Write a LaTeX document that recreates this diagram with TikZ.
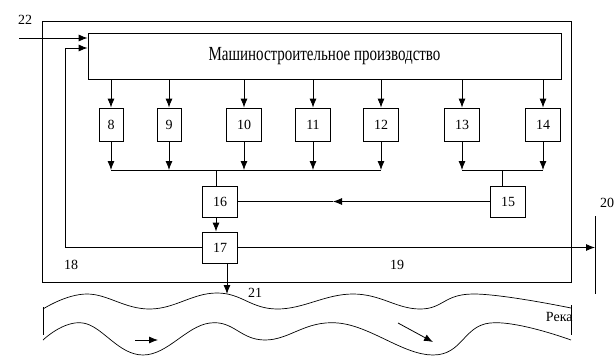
\documentclass[tikz,border=0pt]{standalone}
\usepackage{fontspec}
\setmainfont{Liberation Serif}
\usepackage{tikz}
\usetikzlibrary{arrows.meta}

\newcommand{\narrow}[1]{\scalebox{0.75}[1]{#1}}

\begin{document}
\begin{tikzpicture}
		[x=1pt,y=-1pt,line width=0.8pt,
		every node/.style={font=\fontsize{14}{14}\selectfont,inner sep=0pt},
		blk/.style={draw,minimum width=35pt,minimum height=33pt},
		thin blk/.style={blk,minimum width=24pt},
		flow/.style={-{Latex[length=9pt,width=7pt]}},
		river/.style={line width=0.7pt}]
		\useasboundingbox (0,0) rectangle (615,356);
		% enterprise border
		\draw (42,21) rectangle (571,282);
		\node[draw,minimum width=473pt,minimum height=46pt] (plant) at (324.5,56)
			{\fontsize{20}{20}\selectfont\narrow{Машиностроительное производство}};
		% workshops
		\node[thin blk] (b8) at (111,124.5) {8};
		\node[thin blk] (b9) at (169,124.5) {9};
		\node[blk] (b10) at (244,124.5) {10};
		\node[blk] (b11) at (313,124.5) {11};
		\node[blk] (b12) at (381,124.5) {12};
		\node[blk] (b13) at (462,124.5) {13};
		\node[blk] (b14) at (543,124.5) {14};
		\node[blk,minimum height=31pt] (b15) at (508,201.5) {15};
		\node[blk,minimum height=31pt] (b16) at (220,201.5) {16};
		\node[blk,minimum height=31pt] (b17) at (220,247.5) {17};
		\coordinate (bus1) at (216,170);
		\coordinate (bus2) at (502,170);
		\foreach \n in {8,...,14}
			\draw[flow] (b\n.north |- plant.south) -- (b\n.north);
		\foreach \n in {8,...,12}
			\draw[flow] (b\n.south) -- (b\n.south |- bus1);
		\foreach \n in {13,14}
			\draw[flow] (b\n.south) -- (b\n.south |- bus2);
		\draw (b8.south |- bus1) -- (b12.south |- bus1);
		\draw (b13.south |- bus2) -- (b14.south |- bus2);
		\draw (bus1) -- (bus1 |- b16.north);
		\draw (bus2) -- (bus2 |- b15.north);
		\coordinate (m15) at (333,201.5);
		\draw[flow] (b15.west) -- (m15);
		\draw (m15) -- (b16.east);
		\draw[flow] (bus1 |- b16.south) -- (bus1 |- b17.north);
		% return line 18
		\coordinate (c18) at (65,48);
		\draw[flow] (b17.west) -| (c18) -- (c18 -| plant.west);
		% input 22
		\coordinate (in22) at (19,38);
		\draw[flow] (in22) -- (in22 -| plant.west);
		\node (l22) at (25,20) {22};
		% discharge 19, 20
		\coordinate (t20) at (595,216);
		\coordinate (s20) at (595,294);
		\draw[flow] (b17.east) -- (b17.east -| t20);
		\draw (t20) -- (s20);
		\node (l20) at (607,203) {20};
		\node (l18) at (71,265) {18};
		\node (l19) at (397,265) {19};
		% discharge 21 into river
		\coordinate (c21) at (227,294);
		\draw[flow] (c21 |- b17.south) -- (c21);
		\node (l21) at (255,293) {21};
		% river
		\draw[river] plot[smooth,tension=0.7] coordinates
			{(43,309) (87,294) (150,309) (217,293) (277,309) (353,294) (420,309) (473,294) (571,308)};
		\draw[river] plot[smooth,tension=0.7] coordinates
			{(43,340) (83,323) (143,355) (210,323) (265,340) (338,323) (433,355) (490,323) (571,340)};
		\draw[river] (43,307) -- (43,335);
		\draw[river] (571,305) -- (571,335);
		\coordinate (f1) at (135,340);
		\coordinate (f2) at (158,340);
		\coordinate (f3) at (398,323);
		\coordinate (f4) at (433,342);
		\draw[flow] (f1) -- (f2);
		\draw[flow] (f3) -- (f4);
		\node[anchor=east] (reka) at (573,317) {Река};
\end{tikzpicture}
\end{document}
